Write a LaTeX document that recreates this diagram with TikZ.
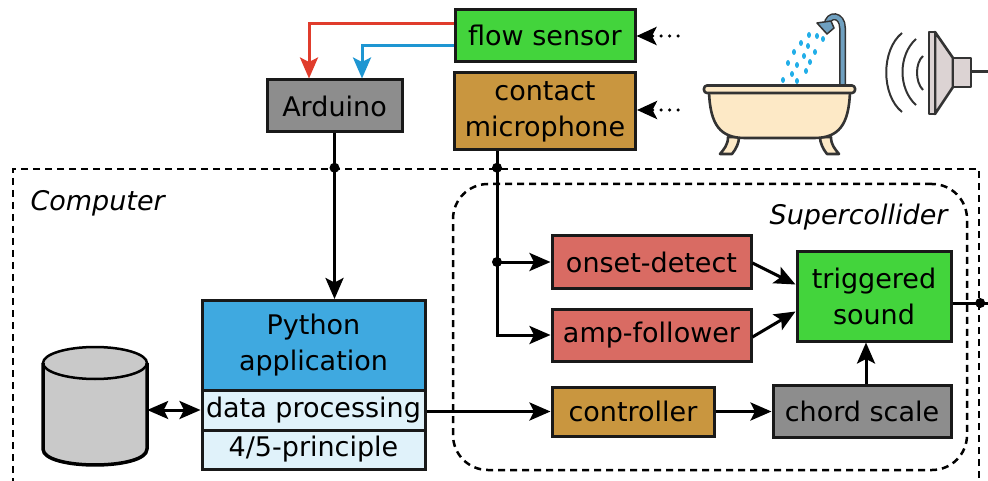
\documentclass[tikz,border=0pt]{standalone}
\usepackage{fontspec}
\setmainfont{DejaVu Sans}
\usetikzlibrary{arrows.meta}

\definecolor{sensorgreen}{HTML}{43D43C}
\definecolor{micbrown}{HTML}{C9963F}
\definecolor{boxgray}{HTML}{8D8D8D}
\definecolor{pyblue}{HTML}{3FA9E0}
\definecolor{pylight}{HTML}{E0F2FA}
\definecolor{salmon}{HTML}{D96B63}
\definecolor{cylgray}{HTML}{C9C9C9}
\definecolor{wirered}{HTML}{E03C2C}
\definecolor{wireblue}{HTML}{1E96D2}
\definecolor{tubfill}{HTML}{FDE9C6}
\definecolor{inkdark}{HTML}{333333}
\definecolor{pipeblue}{HTML}{6FA0C0}
\definecolor{dropblue}{HTML}{22AEE8}
\definecolor{spkfill}{HTML}{DCD3D3}

\begin{document}
\begin{tikzpicture}[x=1pt,y=-1pt,
  txt/.style={font=\fontsize{27}{36}\selectfont},
  blockbox/.style={txt, draw=black!90, line width=3pt, inner sep=1pt, align=center},
  bigtip/.tip={Stealth[length=21pt,width=18pt,inset=4.5pt]},
  conn/.style={line width=3pt, -bigtip},
  plainline/.style={line width=3pt},
  frame/.style={draw=black, line width=2.5pt, dash pattern=on 7pt off 5pt},
  junction/.style={fill=black},
  feed/.style={line width=3.5pt, line cap=round, dash pattern=on 0pt off 8.5pt,
    -{Stealth[length=20pt,width=18pt,inset=4.5pt,line cap=butt]}},
  grouplabel/.style={font=\fontsize{27}{32}\selectfont\itshape},
]
\useasboundingbox (0,0) rectangle (988,481);

% ---------- frames ----------
\node[frame, minimum width=966pt, minimum height=315pt] (comp) at (496,326.5) {};
\node[frame, rounded corners=35pt, minimum width=514pt, minimum height=286pt] (sc) at (710,327) {};
\node[grouplabel, anchor=west] (complabel) at (27,203) {Computer};
\node[grouplabel, anchor=east] (sclabel) at (951,217) {Supercollider};

% ---------- sensors ----------
\node[blockbox, fill=sensorgreen, minimum width=180pt, minimum height=52pt] (fs) at (545,35.5) {flow sensor};
\node[blockbox, fill=micbrown, minimum width=181pt, minimum height=77pt] (cm) at (545,111.5) {contact\\microphone};
\node[blockbox, fill=boxgray, minimum width=135pt, minimum height=52pt] (ard) at (334.5,106) {Arduino};

% ---------- python application ----------
\node[blockbox, fill=pyblue, minimum width=223pt, minimum height=90pt] (py) at (313.5,345.5) {Python\\application};
\node[blockbox, fill=pylight, minimum width=223pt, minimum height=40pt] (dp) at (313.5,410) {data processing};
\node[blockbox, fill=pylight, minimum width=223pt, minimum height=39pt] (pr) at (313.5,449.5) {4/5-principle};

% ---------- supercollider blocks ----------
\node[blockbox, fill=salmon, minimum width=199pt, minimum height=52pt] (onset) at (651.5,262) {onset-detect};
\node[blockbox, fill=salmon, minimum width=199pt, minimum height=52pt] (amp) at (651.5,335) {amp-follower};
\node[blockbox, fill=sensorgreen, minimum width=154pt, minimum height=89pt] (trig) at (874,296.5) {triggered\\sound};
\node[blockbox, fill=micbrown, minimum width=162pt, minimum height=49pt] (ctrl) at (633,411.5) {controller};
\node[blockbox, fill=boxgray, minimum width=178pt, minimum height=52pt] (chord) at (862,411) {chord scale};

% ---------- database cylinder ----------
\fill[cylgray] (43,363) -- (43,449) .. controls (43,470.3) and (147,470.3) .. (147,449)
  -- (147,363) .. controls (147,341.7) and (43,341.7) .. (43,363) -- cycle;
\draw[line width=3.5pt, line join=round] (43,363) -- (43,449) .. controls (43,470.3) and (147,470.3) .. (147,449) -- (147,363);
\draw[line width=2.5pt] (95,363) ellipse [x radius=52, y radius=16];
\node[inner sep=0pt, minimum width=104pt, minimum height=118pt] (db) at (95,406) {};

% ---------- connectors ----------
\draw[conn, wirered] ([yshift=11.5pt]fs.west) -| ([xshift=-25.5pt]ard.north);
\draw[conn, wireblue] ([yshift=-10.5pt]fs.west) -| ([xshift=27.5pt]ard.north);

\coordinate (fsfeed) at (678,36);
\coordinate (cmfeed) at (678,110);
\draw[feed] (fsfeed) -- (fsfeed -| fs.east);
\draw[feed] (cmfeed) -- (cmfeed -| cm.east);

\draw[conn] (ard.south) -- (ard.south |- py.north);
\fill[junction] (ard.south |- comp.north) circle[radius=5pt];

\coordinate (micbus) at (497,0);
\draw[plainline] (cm.south -| micbus) -- (micbus |- onset.west);
\draw[conn] (micbus |- onset.west) -- (onset.west);
\draw[conn] (micbus |- onset.west) -- (micbus |- amp.west) -- (amp.west);
\fill[junction] (micbus |- comp.north) circle[radius=5pt];
\fill[junction] (micbus |- onset.west) circle[radius=5pt];

\draw[conn] ([yshift=-1pt]onset.east) -- ([yshift=12pt]trig.west);
\draw[conn] ([yshift=-2pt]amp.east) -- ([yshift=-15pt]trig.west);

\draw[line width=3pt, bigtip-bigtip] (db.east |- dp.west) -- (dp.west);
\draw[conn] (dp.east |- ctrl.west) -- (ctrl.west);
\draw[conn] (ctrl.east) -- (ctrl.east -| chord.west);
\draw[conn] ([xshift=4pt]chord.north) -- ([xshift=4pt]chord.north |- trig.south);

\coordinate (out) at (990,303);
\draw[plainline] (trig.east |- out) -- (out);
\fill[junction] (comp.east |- out) circle[radius=5pt];

% ---------- bathtub with shower ----------
\begin{scope}[draw=inkdark, line width=2.6pt, line join=round]
  % claw feet
  \filldraw[fill=tubfill] (728,137) .. controls (728,145) and (724,149) .. (720,154)
    -- (732,154) .. controls (736,149) and (739,143) .. (739,137) -- cycle;
  \filldraw[fill=tubfill] (831,137) .. controls (831,145) and (835,149) .. (839,154)
    -- (827,154) .. controls (823,149) and (820,143) .. (820,137) -- cycle;
  % tub body and rim
  \filldraw[fill=tubfill] (709,91) .. controls (710,126) and (721,138) .. (745,138)
    -- (814,138) .. controls (838,138) and (849,126) .. (850,91) -- cycle;
  \filldraw[fill=tubfill, rounded corners=3pt] (704,85.5) rectangle (855,93);
\end{scope}
% shower pipe and head
\draw[inkdark, line width=7pt] (842.5,84) -- (842.5,28) .. controls (842.5,14) and (828,13) .. (827,25);
\draw[pipeblue, line width=4pt] (842.5,84) -- (842.5,28) .. controls (842.5,14) and (828,13) .. (827,25);
\filldraw[fill=pipeblue, draw=inkdark, line width=1.5pt, line join=round] (817,23) -- (831,21) -- (834,28) -- (827,34) -- cycle;
% water drops
\foreach \dx/\dy in {809/35, 817/36, 823/39, 801/43, 808/46, 815/52, 794/52, 804/56,
  810/62, 788/63, 797/65, 806/71, 783/80, 792/74, 797/81}
  \fill[dropblue] (\dx,\dy) ellipse [x radius=2, y radius=3];

% ---------- loudspeaker ----------
\begin{scope}[draw=inkdark, line width=2.6pt, line join=round]
  \filldraw[fill=spkfill] (935,32) -- (953,58) -- (953,87) -- (935,114) -- cycle;
  \filldraw[fill=spkfill] (929,32) rectangle (935,114);
  \filldraw[fill=spkfill] (953,58) rectangle (971,87);
  \draw[line width=3pt] (971,72) -- (990,72);
  \draw[line width=2pt] (902,33) .. controls (881,50) and (881,95) .. (902,112);
  \draw[line width=2pt] (916,39) .. controls (898,55) and (898,89) .. (916,105);
  \draw[line width=2pt] (923,56) .. controls (915,63) and (915,82) .. (923,90);
\end{scope}
\end{tikzpicture}
\end{document}
